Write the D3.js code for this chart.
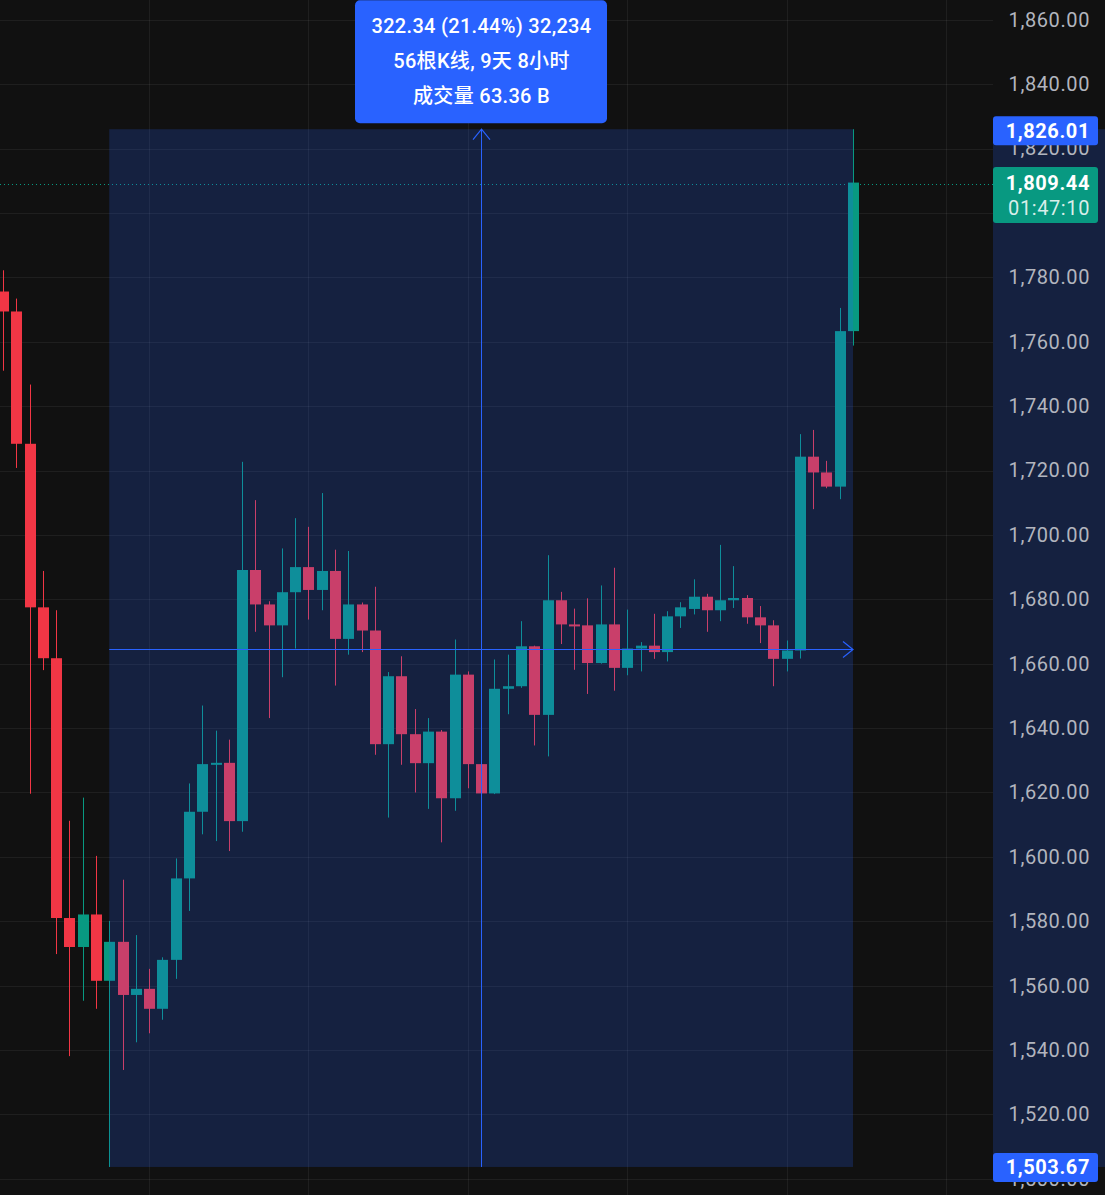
<!DOCTYPE html>
<html><head><meta charset="utf-8">
<script src="https://cdn.jsdelivr.net/npm/d3@7"></script>
<style>
html,body{margin:0;padding:0;background:#111111;}
svg{display:block;}
text{font-family:Roboto,"Noto Sans CJK SC","Noto Sans",sans-serif;}
</style></head>
<body>
<svg id="chart" width="1105" height="1195"></svg>
<script>
// ---- data (4h bars) ----
const opens  = [1775.6,1769.4,1728.3,1677.5,1661.7,1581.0,1572.0,1582.1,1561.5,1573.6,
                1557.1,1559.0,1552.8,1568.0,1593.3,1614.0,1628.8,1629.2,1611.1,1689.1,
                1678.4,1671.9,1682.2,1690.0,1682.9,1688.8,1667.7,1678.4,1670.3,1635.0,
                1656.1,1638.1,1629.1,1638.9,1618.2,1656.6,1628.8,1619.7,1652.2,1653.0,
                1665.4,1644.1,1679.7,1672.2,1671.9,1660.2,1672.2,1658.7,1664.7,1665.6,
                1663.6,1674.7,1677.0,1680.8,1676.6,1679.7,1680.4,1674.4,1671.9,1661.5,
                1664.1,1724.3,1719.4,1715.0,1763.3];
const highs  = [1782.2,1773.4,1746.7,1688.8,1676.6,1611.2,1618.4,1600.3,1580.1,1592.9,
                1575.7,1565.2,1568.8,1599.5,1622.8,1647.0,1639.2,1636.4,1722.7,1710.8,
                1679.4,1695.8,1705.2,1702.5,1713.0,1695.4,1695.0,1679.0,1683.9,1657.4,
                1662.3,1645.9,1643.1,1639.4,1667.5,1657.6,1629.3,1661.3,1662.8,1673.2,
                1665.6,1693.7,1682.3,1677.1,1680.3,1684.3,1689.8,1676.8,1666.7,1675.5,
                1676.3,1679.1,1686.2,1681.7,1696.9,1690.3,1681.3,1677.9,1673.5,1667.2,
                1731.3,1732.6,1723.0,1770.5,1826.01];
const lows   = [1751.0,1720.8,1619.6,1658.0,1569.8,1538.1,1555.3,1552.8,1503.67,1533.8,
                1542.4,1545.2,1549.4,1562.1,1583.2,1607.0,1604.9,1601.8,1607.8,1669.9,
                1643.1,1655.8,1664.7,1673.7,1676.6,1653.2,1662.8,1663.6,1631.7,1612.2,
                1628.6,1620.0,1614.9,1604.5,1614.3,1621.3,1619.3,1619.5,1644.3,1652.5,
                1634.6,1631.2,1666.1,1658.1,1650.6,1660.0,1651.6,1656.4,1657.6,1661.5,
                1660.7,1671.1,1675.3,1669.9,1673.2,1677.3,1672.4,1666.4,1653.0,1657.6,
                1661.6,1708.0,1714.5,1711.1,1758.8];
const closes = [1769.4,1728.3,1677.5,1661.7,1581.0,1572.0,1582.1,1561.5,1573.6,1557.1,
                1559.0,1552.8,1568.0,1593.3,1614.0,1628.8,1629.2,1611.1,1689.1,1678.4,
                1671.9,1682.2,1690.0,1682.9,1688.8,1667.7,1678.4,1670.3,1635.0,1656.1,
                1638.1,1629.1,1638.9,1618.2,1656.6,1628.8,1619.7,1652.2,1653.0,1665.4,
                1644.1,1679.7,1672.2,1671.9,1660.2,1672.2,1658.7,1664.7,1665.6,1663.6,
                1674.7,1677.5,1680.8,1676.6,1679.7,1680.4,1674.4,1671.9,1661.5,1664.1,
                1724.3,1719.4,1715.0,1763.3,1809.44];
const priceTicks = [1500,1520,1540,1560,1580,1600,1620,1640,1660,1680,1700,1720,1740,1760,1780,1800,1820,1840,1860];
const hiddenTickLabels = [1800]; // fully covered by the last-price tag
const timeGridIdx = [11,23,35,47,59,71];
const rangeStart = 8, rangeEnd = 64;
const tooltipLines = ["322.34 (21.44%) 32,234", "56根K线, 9天 8小时", "成交量 63.36 B"];
const lastPrice = 1809.44, countdown = "01:47:10";

// ---- setup ----
const W = 1105, H = 1195, axisX = 993;
const UP = "#089981", DOWN = "#F23645", BLUE = "#2962FF";
const svg = d3.select("#chart");
const y = d3.scaleLinear().domain([1520,1860]).range([1114.4,19.8]);
const x = d3.scaleLinear().domain([0,64]).range([3,853]);
const bodyW = 11;
const fmt = d3.format(",.2f");
const bars = opens.map((o,i)=>({i,o,h:highs[i],l:lows[i],c:closes[i]}));

svg.append("rect").attr("width",W).attr("height",H).attr("fill","#111111");

// grid
svg.append("g").selectAll("line").data(priceTicks).join("line")
  .attr("x1",0).attr("x2",axisX).attr("y1",d=>Math.round(y(d))+0.5).attr("y2",d=>Math.round(y(d))+0.5)
  .attr("stroke","rgba(255,255,255,0.06)");
svg.append("g").selectAll("line").data(timeGridIdx).join("line")
  .attr("x1",d=>Math.round(x(d))+0.5).attr("x2",d=>Math.round(x(d))+0.5).attr("y1",0).attr("y2",H)
  .attr("stroke","rgba(255,255,255,0.06)");

// candles
const cg = svg.append("g");
cg.selectAll("line").data(bars).join("line")
  .attr("x1",d=>Math.round(x(d.i))+0.5).attr("x2",d=>Math.round(x(d.i))+0.5)
  .attr("y1",d=>y(d.h)).attr("y2",d=>y(d.l))
  .attr("stroke",d=>d.c>=d.o?UP:DOWN).attr("stroke-width",1);
cg.selectAll("rect").data(bars).join("rect")
  .attr("x",d=>Math.round(x(d.i))-5).attr("width",bodyW)
  .attr("y",d=>y(Math.max(d.o,d.c)))
  .attr("height",d=>Math.max(2,Math.abs(y(d.o)-y(d.c))))
  .attr("fill",d=>d.c>=d.o?UP:DOWN);

// last price dotted line
svg.append("line").attr("x1",0).attr("x2",axisX).attr("y1",Math.round(y(lastPrice))+1.5).attr("y2",Math.round(y(lastPrice))+1.5)
  .attr("stroke",UP).attr("stroke-dasharray","1,3");

// range overlay
const rx0 = x(rangeStart), rx1 = x(rangeEnd);
const ry0 = y(highs[rangeEnd]), ry1 = y(lows[rangeStart]);
svg.append("rect").attr("x",rx0).attr("y",ry0).attr("width",rx1-rx0).attr("height",ry1-ry0)
  .attr("fill",BLUE).attr("fill-opacity",0.2);
const mx = Math.round((rx0+rx1)/2)+0.5, my = Math.round((ry0+ry1)/2)+1.5;
svg.append("line").attr("x1",mx).attr("x2",mx).attr("y1",ry0).attr("y2",ry1).attr("stroke",BLUE);
svg.append("line").attr("x1",rx0).attr("x2",rx1).attr("y1",my).attr("y2",my).attr("stroke",BLUE);
svg.append("polyline").attr("points",`${mx-8.5},${ry0+10.5} ${mx},${ry0} ${mx+8.5},${ry0+10.5}`)
  .attr("fill","none").attr("stroke",BLUE).attr("stroke-width",1.2);
svg.append("polyline").attr("points",`${rx1-10},${my-8} ${rx1},${my} ${rx1-10},${my+8}`)
  .attr("fill","none").attr("stroke",BLUE).attr("stroke-width",1.2);

// price axis
svg.append("rect").attr("x",axisX).attr("y",ry0).attr("width",W-axisX).attr("height",ry1-ry0)
  .attr("fill",BLUE).attr("fill-opacity",0.2);
const ax = svg.append("g").attr("transform",`translate(1090,0)`)
  .call(d3.axisRight(y).tickValues(priceTicks.filter(t=>!hiddenTickLabels.includes(t))).tickFormat(fmt).tickSize(0).tickPadding(0));
ax.select(".domain").remove();
ax.selectAll("text").attr("text-anchor","end").attr("fill","#b2b5be")
  .attr("font-size",20).attr("letter-spacing","0.6px").style("font-family","Roboto,sans-serif");

function priceTag(fill, yTop, h){
  svg.append("rect").attr("x",axisX).attr("y",yTop).attr("width",105).attr("height",h)
    .attr("rx",3).attr("fill",fill);
}
function tagText(txt, yc, bold, col){
  svg.append("text").attr("x",1090).attr("y",yc).attr("dy","0.35em").attr("text-anchor","end")
    .attr("fill",col).attr("font-size",20).attr("letter-spacing","0.6px")
    .attr("font-weight",bold?700:400).text(txt);
}
// range high/low tags
const hiP = highs[rangeEnd], loP = lows[rangeStart];
priceTag(BLUE, y(hiP)-13, 29);
tagText(fmt(hiP), y(hiP)+1.5, true, "#fff");
priceTag(BLUE, y(loP)-14, 29);
tagText(fmt(loP), y(loP)+0.5, true, "#fff");
// last price tag
priceTag(UP, y(lastPrice)-15.5, 56);
tagText(fmt(lastPrice), y(lastPrice)+0.5, true, "#fff");
tagText(countdown, y(lastPrice)+25, false, "rgba(255,255,255,0.85)");

// tooltip
const tw = 252, th = 123;
svg.append("rect").attr("x",mx-0.5-tw/2).attr("y",ry0-6-th).attr("width",tw).attr("height",th)
  .attr("rx",5).attr("fill",BLUE);
svg.append("g").selectAll("text").data(tooltipLines).join("text")
  .attr("x",mx).attr("y",(d,i)=>ry0-6-th+26+i*35).attr("dy","0.35em").attr("text-anchor","middle")
  .attr("fill","#fff").attr("font-size",20).attr("letter-spacing","0.3px").attr("font-weight",500).text(d=>d);
</script>
</body></html>
